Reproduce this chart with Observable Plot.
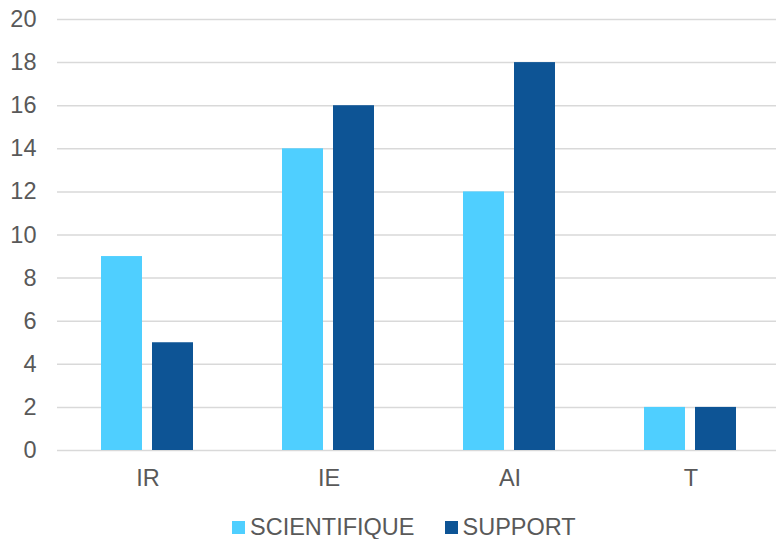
<!DOCTYPE html>
<html>
<head>
<meta charset="utf-8">
<script src="https://cdn.jsdelivr.net/npm/d3@7"></script>
<script src="https://cdn.jsdelivr.net/npm/@observablehq/plot@0.6"></script>
<style>
  body { margin: 0; background: #fff; font-family: "Liberation Sans", Arial, sans-serif; overflow: hidden; width: 776px; }
  #chart { width: 776px; overflow: hidden; height: 500px; }
  #legend { display: flex; align-items: center; padding-left: 232px; height: 39px; padding-top: 16px; box-sizing: border-box; color: #595959; font-size: 23.5px; line-height: 23px; }
  .item { display: flex; align-items: center; margin-right: 30px; }
  .sw { width: 13px; height: 13px; margin-right: 5px; }
</style>
</head>
<body>
<div id="chart"></div>
<div id="legend"></div>
<script>
const categories = ["IR", "IE", "AI", "T"];
const series = ["SCIENTIFIQUE", "SUPPORT"];
const scientifique = [9, 14, 12, 2];
const support = [5, 16, 18, 2];
const yTicks = [0, 2, 4, 6, 8, 10, 12, 14, 16, 18, 20];
const colors = ["#4FCFFF", "#0D5495"];

const data = [];
categories.forEach((c, i) => {
  data.push({cat: c, s: series[0], v: scientifique[i]});
  data.push({cat: c, s: series[1], v: support[i]});
});

const chart = Plot.plot({
  width: 781,
  height: 500,
  marginLeft: 57,
  marginRight: 0,
  marginTop: 19,
  marginBottom: 50,
  style: {fontFamily: "Liberation Sans, Arial, sans-serif", fontSize: "23.5px", color: "#595959", background: "#fff", maxWidth: "none"},
  fx: {domain: categories, padding: 0, label: null, axis: null},
  x: {domain: series, paddingInner: 0.196, paddingOuter: 0.86, axis: null},
  y: {domain: [0, 20], ticks: yTicks, label: null, axis: null},
  color: {domain: series, range: colors},
  marks: [
    Plot.gridY(yTicks, {stroke: "#d9d9d9", strokeOpacity: 1, strokeWidth: 1.5}),
    Plot.barY(data, {fx: "cat", x: "s", y: "v", fill: "s", inset: 0}),
    Plot.axisY(yTicks, {tickSize: 0, tickPadding: 21, label: null, fill: "#595959", fontSize: 23.5}),
    Plot.axisFx({anchor: "bottom", tickSize: 0, tickPadding: 19, label: null, fill: "#595959", fontSize: 23.5})
  ]
});
chart.style.maxWidth = "none";
document.getElementById("chart").appendChild(chart);

const legend = document.getElementById("legend");
series.forEach((s, i) => {
  const it = document.createElement("div");
  it.className = "item";
  const sw = document.createElement("div");
  sw.className = "sw";
  sw.style.background = colors[i];
  const t = document.createElement("span");
  t.textContent = s;
  it.appendChild(sw);
  it.appendChild(t);
  legend.appendChild(it);
});
</script>
</body>
</html>
